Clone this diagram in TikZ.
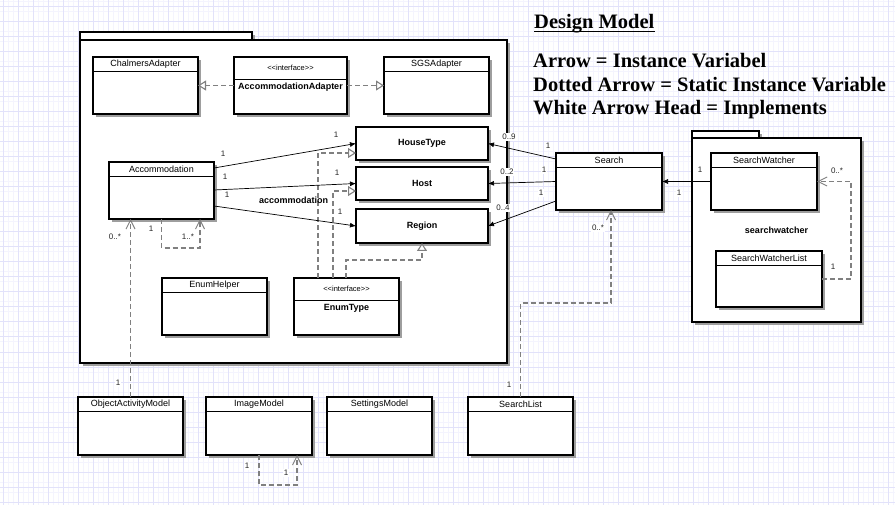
\documentclass[tikz,border=0pt]{standalone}
\usepackage{fontspec}
\setmainfont{Liberation Sans}
\newfontfamily\legendfont{Liberation Serif}
\usetikzlibrary{arrows.meta,positioning,calc,shadows}

\definecolor{gridmajor}{RGB}{226,226,250}
\definecolor{gridminor}{RGB}{244,244,254}
\definecolor{dashgray}{RGB}{128,128,128}

\tikzset{
    classbox/.style={draw, fill=white, line width=1.2pt, inner sep=0pt, outer sep=0pt, minimum width=105, minimum height=57,
        drop shadow={shadow xshift=3pt, shadow yshift=-3pt, fill=black!38, opacity=1}},
    plainbox/.style={classbox, minimum width=132, minimum height=33, font=\bfseries\fontsize{9}{10}\selectfont},
    pkgbox/.style={classbox},
    classname/.style={inner sep=0pt, minimum height=14, font=\fontsize{9}{10}\selectfont},
    stereoname/.style={inner sep=0pt, minimum height=22, font=\fontsize{7.5}{9}\selectfont},
    ifacename/.style={inner sep=0pt, minimum height=16, font=\bfseries\fontsize{9}{10}\selectfont},
    mult/.style={inner sep=0.8pt, fill=white, font=\fontsize{8}{9}\selectfont, text=black!85},
    boldnote/.style={inner sep=0pt, font=\bfseries\fontsize{9}{10}\selectfont},
    legend/.style={inner sep=0pt, anchor=base west, font=\legendfont\bfseries\fontsize{20.5}{23}\selectfont},
    assoc/.style={-{Latex[length=6pt,width=5pt]}, line width=0.7pt},
    dashline/.style={draw=dashgray, line width=1.1pt, dash pattern=on 5pt off 3pt},
    realize/.style={dashline, -{Triangle[open, length=8pt, width=10pt, fill=white]}},
    staticvar/.style={dashline, -{Straight Barb[length=9pt, width=9pt, line width=1pt]}}
}

% header compartment of a class
\newcommand{\classhead}[2]{%
    \node[classname, below=0pt of #1.north] (#1-name) {#2};
    \draw[line width=1.2pt] (#1-name.south -| #1.west) -- (#1-name.south -| #1.east);
}
% header of an interface
\newcommand{\ifacehead}[2]{%
    \node[stereoname, below=0pt of #1.north] (#1-st) {<\kern0pt<interface>\kern0pt>};
    \draw[line width=1.2pt] (#1-st.south -| #1.west) -- (#1-st.south -| #1.east);
    \node[ifacename, below=0pt of #1-st.south] (#1-name) {#2};
}

\begin{document}
\begin{tikzpicture}[x=1pt, y=-1pt]
    \useasboundingbox (0,0) rectangle (895,505);
    \fill[white] (0,0) rectangle (895,505);
    % background grid
    \foreach \gx in {8,13,...,895} \draw[gridminor, line width=1pt] (\gx,0) -- (\gx,505);
    \foreach \gy in {2,12,...,505} \draw[gridminor, line width=1pt] (0,\gy) -- (895,\gy);
    \foreach \gx in {3,18,...,895} \draw[gridmajor, line width=1pt] (\gx,0) -- (\gx,505);
    \foreach \gy in {7,22,...,505} \draw[gridmajor, line width=1pt] (0,\gy) -- (895,\gy);

    % legend
    \node[legend] (title) at (534,29) {Design Model};
    \draw[line width=1.3pt] ([yshift=-2.5pt]title.base west) -- ([yshift=-2.5pt]title.base east);
    \node[legend] (legarrow) at (533,68) {Arrow = Instance Variabel};
    \node[legend] (legdotted) at (533,92) {Dotted Arrow = Static Instance Variable};
    \node[legend] (legwhite) at (533,115) {White Arrow Head = Implements};

    % packages
    \node[pkgbox, minimum width=172, minimum height=8, anchor=south west] (maintab) at (80,40) {};
    \node[pkgbox, minimum width=427, minimum height=323] (mainpkg) at (293.5,201.5) {};
    \node[pkgbox, minimum width=67, minimum height=7, anchor=south west] (swtab) at (692,138) {};
    \node[pkgbox, minimum width=169, minimum height=184] (swpkg) at (776.5,230) {};
    \node[boldnote] (swlabel) at (swpkg.center) {searchwatcher};

    % adapters
    \node[classbox] (chalmers) at (145.5,85.5) {};
    \classhead{chalmers}{ChalmersAdapter}
    \node[classbox, minimum width=113] (accadapter) at (290.5,85.5) {};
    \ifacehead{accadapter}{AccommodationAdapter}
    \node[classbox] (sgs) at (436.5,85.5) {};
    \classhead{sgs}{SGSAdapter}

    % model classes
    \node[classbox] (acc) at (161.5,190.5) {};
    \classhead{acc}{Accommodation}
    \node[plainbox] (housetype) at (422,143.5) {HouseType};
    \node[plainbox] (host) at (422,183.5) {Host};
    \node[plainbox, minimum height=34] (region) at (422,226) {Region};
    \node[classbox] (enumhelper) at (214.5,306.5) {};
    \classhead{enumhelper}{EnumHelper}
    \node[classbox] (enumtype) at (346.5,306.5) {};
    \ifacehead{enumtype}{EnumType}

    % search
    \node[classbox, minimum width=106] (search) at (609,181.5) {};
    \classhead{search}{Search}
    \node[classbox, minimum width=106] (sw) at (764,181.5) {};
    \classhead{sw}{SearchWatcher}
    \node[classbox, minimum width=106, minimum height=56] (swlist) at (769,279) {};
    \classhead{swlist}{SearchWatcherList}

    % bottom row
    \node[classbox, minimum height=58] (oam) at (130.5,426) {};
    \classhead{oam}{ObjectActivityModel}
    \node[classbox, minimum width=106, minimum height=58, right=23pt of oam] (imagemodel) {};
    \classhead{imagemodel}{ImageModel}
    \node[classbox, minimum height=58, right=15pt of imagemodel] (settings) {};
    \classhead{settings}{SettingsModel}
    \node[classbox, minimum height=58, right=36pt of settings] (searchlist) {};
    \classhead{searchlist}{SearchList}

    % implements
    \draw[realize] (accadapter.west) -- (chalmers.east);
    \draw[realize] (accadapter.east) -- (sgs.west);
    \draw[realize] ([xshift=24pt]enumtype.north west) |- ([yshift=-26pt]housetype.north west);
    \draw[realize] ([xshift=39pt]enumtype.north west) |- ([yshift=-24pt]host.north west);
    \draw[realize] ([xshift=52pt]enumtype.north west) -- ++(0,-18) -| (region.south);

    % instance variables
    \draw[assoc] ([yshift=-6pt]acc.north east) node[mult, xshift=9pt, yshift=14pt]{1}
        -- (housetype.west) node[mult, xshift=-20pt, yshift=9pt]{1};
    \draw[assoc] ([yshift=-28pt]acc.north east) node[mult, xshift=11pt, yshift=13pt]{1}
        -- (host.west) node[mult, xshift=-19pt, yshift=10.5pt]{1};
    \draw[assoc] ([yshift=-44pt]acc.north east) node[mult, xshift=13pt, yshift=11pt]{1}
        -- node[boldnote, pos=0.56, yshift=16.5pt]{accommodation} (region.west) node[mult, xshift=-16pt, yshift=14pt]{1};
    \draw[assoc] ([yshift=-6pt]search.north west) node[mult, xshift=-8pt, yshift=13pt]{1}
        -- (housetype.east) node[mult, xshift=21pt, yshift=6.5pt]{0..9};
    \draw[assoc] (search.west) node[mult, xshift=-12pt, yshift=11.5pt]{1}
        -- (host.east) node[mult, xshift=19pt, yshift=11.5pt]{0..2};
    \draw[assoc] ([yshift=-48pt]search.north west) node[mult, xshift=-15pt, yshift=8pt]{1}
        -- (region.east) node[mult, xshift=15pt, yshift=18pt]{0..4};
    \draw[assoc] (sw.west) node[mult, xshift=-11pt, yshift=11.5pt]{1}
        -- (search.east) node[mult, xshift=17pt, yshift=-11.5pt]{1};

    % static instance variables
    \draw[staticvar] (acc.south) node[mult, xshift=-10.5pt, yshift=-10pt]{1}
        -- ++(0,29) -| ([xshift=-14pt]acc.south east) node[mult, xshift=-12pt, yshift=-18pt]{1..*};
    \draw[staticvar] (oam.north) node[mult, xshift=-12.5pt, yshift=14pt]{1}
        -- (oam.north |- acc.south) node[mult, xshift=-15.5pt, yshift=-18pt]{0..*};
    \draw[staticvar] (imagemodel.south) node[mult, xshift=-12pt, yshift=-11pt]{1}
        -- ++(0,30) -| ([xshift=-15pt]imagemodel.south east) node[mult, xshift=-11pt, yshift=-18pt]{1};
    \draw[staticvar] (searchlist.north) node[mult, xshift=-11.5pt, yshift=12pt]{1}
        -- ++(0,-94) -| ([xshift=2pt]search.south) node[mult, xshift=-13pt, yshift=-18pt]{0..*};
    \draw[staticvar] (swlist.east) node[mult, xshift=11pt, yshift=12pt]{1}
        -- ++(29,0) |- (sw.east) node[mult, xshift=20pt, yshift=10.5pt]{0..*};
\end{tikzpicture}
\end{document}
